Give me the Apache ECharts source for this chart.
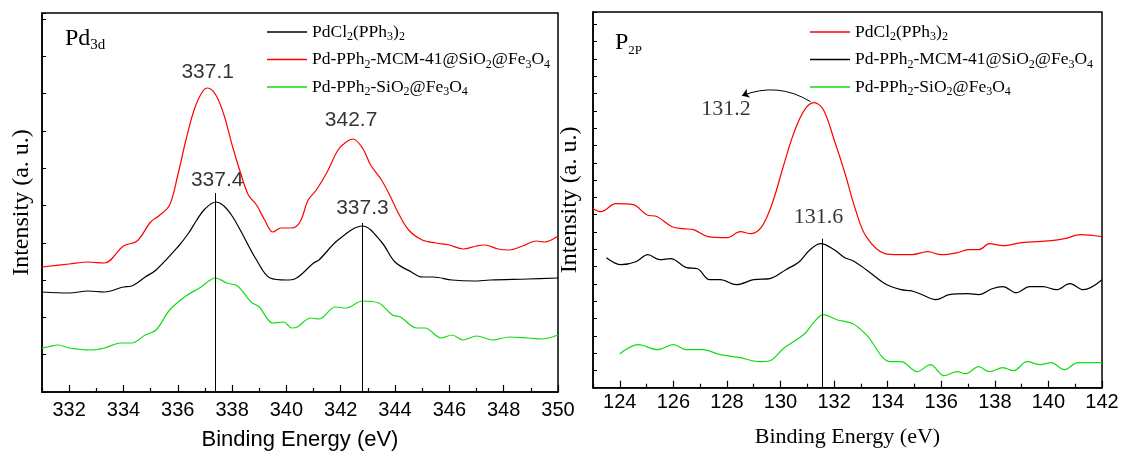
<!DOCTYPE html>
<html>
<head>
<meta charset="utf-8">
<title>XPS Pd3d / P2p</title>
<script src="https://cdn.jsdelivr.net/npm/echarts@6/dist/echarts.min.js"></script>
<style>
  html, body { margin: 0; background: #fff; }
  .panel { position: absolute; left: 0; top: 0; width: 1125px; height: 458px; }
</style>
</head>
<body>
<div id="pd" class="panel"></div>
<div id="p2p" class="panel"></div>
<script>
// sample names
const nameComplex = 'PdCl2(PPh3)2';
const nameMcm = 'Pd-PPh2-MCM-41@SiO2@Fe3O4';
const nameSio2 = 'Pd-PPh2-SiO2@Fe3O4';

// Pd 3d panel: [binding energy, intensity a.u.]
const pdRed = [[331.0,125],[332.0,128],[332.7,130],[333.3,129],[334.0,146],[334.5,151],[335.0,170],[335.3,176],
  [335.7,187],[336.0,217],[336.3,252],[336.6,282],[336.9,300],[337.1,304],[337.4,297],[337.7,277],[338.0,247],
  [338.3,220],[338.6,197],[338.9,187],[339.2,172],[339.5,160],[339.8,164],[340.2,164],[340.5,170],[340.8,192],
  [341.1,202],[341.5,220],[341.9,242],[342.2,250],[342.45,253],[342.8,244],[343.1,227],[343.5,212],[343.8,197],
  [344.1,180],[344.5,162],[345.0,152],[345.5,149],[346.0,147],[346.5,143],[347.0,146],[347.3,147],[347.8,143],
  [348.2,142],[348.7,146],[349.2,151],[349.5,150],[350.0,156]];
const pdBlack = [[331.0,100],[332.0,99],[332.7,101],[333.3,100],[334.0,105],[334.3,106],[334.8,115],[335.2,122],
  [336.0,145],[336.4,159],[336.7,172],[337.0,183],[337.4,190],[337.7,186],[338.0,176],[338.3,162],[338.9,132],
  [339.4,114],[340.0,112],[340.3,113],[341.0,129],[341.2,132],[341.9,152],[342.8,166],[343.5,150],[344.0,130],
  [344.6,120],[345.0,115],[345.4,115],[346.1,112],[346.9,111],[347.5,112],[348.9,113],[350.0,114]];
const pdGreen = [[331.0,44],[331.2,45],[331.6,47],[332.0,44],[332.8,42],[333.3,44],[333.9,49],[334.3,49],[334.8,57],
  [335.2,62],[335.7,82],[336.3,96],[336.8,104],[337.4,114],[337.8,109],[338.2,106],[338.7,90],[339.0,85],[339.5,69],
  [339.9,70],[340.2,64],[340.4,65],[340.9,74],[341.2,73],[341.8,85],[342.2,84],[342.8,91],[343.4,89],[343.9,77],
  [344.2,75],[344.8,64],[345.1,64],[345.7,54],[346.1,57],[346.5,52],[347.0,56],[347.6,52],[348.2,55],[348.9,54],
  [349.4,53],[350.0,57]];
const pdPeakLabels = [[337.1,320,'337.1'],[342.38,272,'342.7'],[337.45,212,'337.4'],[342.8,184,'337.3']];
const pdDropLines = [[337.38,199],[342.8,169]];
const pdEvenTicks = [332,334,336,338,340,342,344,346,348,350];
const pdOddTicks = [331,333,335,337,339,341,343,345,347,349];

// P 2p panel
const pRed = [[123.0,179],[123.3,176],[123.85,184],[124.5,183],[125.0,173],[125.4,171],[125.95,161],[126.35,159],
  [126.75,158],[127.3,151],[128.0,150],[128.5,156],[128.9,154],[129.3,161],[129.7,185],[130.1,221],[130.5,255],
  [130.9,278],[131.25,285],[131.6,278],[132.0,248],[132.4,215],[132.8,178],[133.2,151],[133.9,134],[134.4,133],
  [134.9,133],[135.5,136],[136.0,133],[136.6,135],[137.0,138],[137.4,138],[137.8,144],[138.3,142],[139.0,145],
  [140.1,147],[140.6,149],[141.2,153],[142.0,151]];
const pBlack = [[123.5,130],[124.05,123],[124.6,126],[125.05,133],[125.5,128],[125.9,129],[126.5,120],[126.9,119],
  [127.35,108],[127.75,108],[128.35,103],[129.0,108],[129.6,109],[130.2,118],[130.7,126],[131.1,138],[131.5,144],
  [132.0,138],[132.4,130],[132.7,127],[133.2,118],[133.9,104],[134.5,98],[134.85,97],[135.2,94],[135.8,88],
  [136.3,93],[137.0,94],[137.4,93],[137.9,99],[138.3,101],[138.8,95],[139.3,101],[139.8,101],[140.3,98],
  [140.8,104],[141.3,98],[142.0,108]];
const pGreen = [[124.0,34],[124.7,43],[125.4,38],[126.0,43],[126.5,38],[127.1,38],[127.75,33],[128.5,30],[129.2,26],
  [129.6,27],[130.1,39],[130.9,54],[131.2,64],[131.6,73],[132.1,68],[132.7,64],[133.2,53],[134.1,26],[134.5,26],
  [135.1,16],[135.6,23],[136.1,12],[136.6,16],[136.9,14],[137.4,21],[137.8,16],[138.3,20],[138.7,17],[139.2,26],
  [139.7,23],[140.1,25],[140.6,18],[141.1,25],[142.0,25]];
const pPeakLabels = [[127.96,278,'131.2'],[131.42,170,'131.6']];
const pArrow = [[131.12,286],[128.56,292]];
const pDropLine = [131.56,149];
const pEvenTicks = [124,126,128,130,132,134,136,138,140,142];
const pOddTicks = [123,125,127,129,131,133,135,137,139,141];

const SERIF = 'Liberation Serif, Times New Roman, serif';
const SANS = 'Liberation Sans, Arial, sans-serif';

// legend / title text with subscripts
const richNames = {};
richNames[nameComplex] = '{t|PdCl}{s|2}{t|(PPh}{s|3}{t|)}{s|2}';
richNames[nameMcm] = '{t|Pd-PPh}{s|2}{t|-MCM-41@SiO}{s|2}{t|@Fe}{s|3}{t|O}{s|4}';
richNames[nameSio2] = '{t|Pd-PPh}{s|2}{t|-SiO}{s|2}{t|@Fe}{s|3}{t|O}{s|4}';
const subRich = {
  t: { fontFamily: SERIF, fontSize: 17.5, lineHeight: 22, color: '#000' },
  s: { fontFamily: SERIF, fontSize: 12, lineHeight: 9, verticalAlign: 'bottom', color: '#000' }
};

function makeLine(name, data, color) {
  return {
    name: name,
    type: 'line',
    data: data,
    symbol: 'none',
    smooth: 0.35,
    lineStyle: { color: color, width: 1.2 },
    itemStyle: { color: color },
    z: 3
  };
}

function labelSeries(data, font, size) {
  return {
    type: 'scatter',
    data: data,
    symbolSize: 0,
    silent: true,
    label: {
      show: true,
      position: 'inside',
      formatter: p => p.data[2],
      color: '#000',
      fontFamily: font,
      fontSize: size
    }
  };
}

function panelOption(cfg) {
  return {
    animation: false,
    title: {
      text: cfg.title,
      left: cfg.titleLeft,
      top: cfg.titleTop,
      textStyle: { fontWeight: 'normal', rich: cfg.titleRich }
    },
    legend: {
      data: [nameComplex, nameMcm, nameSio2],
      orient: 'vertical',
      left: cfg.legendLeft,
      top: 18,
      icon: 'rect',
      itemWidth: 40,
      itemHeight: 1.5,
      itemGap: 7.5,
      formatter: n => richNames[n],
      textStyle: { rich: subRich }
    },
    grid: {
      left: cfg.grid[0], top: cfg.grid[1], width: cfg.grid[2], height: cfg.grid[3],
      show: true, borderColor: '#000', borderWidth: 1.5, backgroundColor: 'transparent'
    },
    xAxis: [
      {
        type: 'value', min: cfg.xMin, max: cfg.xMax, position: 'bottom',
        axisLine: { lineStyle: { color: '#000', width: 1.5 } },
        axisTick: { inside: true, length: 7, customValues: cfg.evenTicks, lineStyle: { color: '#000', width: 1.2 } },
        axisLabel: { customValues: cfg.evenTicks, color: '#000', fontFamily: SANS, fontSize: 20, margin: cfg.labelMargin },
        splitLine: { show: false },
        name: 'Binding Energy (eV)', nameLocation: 'middle', nameGap: cfg.xNameGap,
        nameTextStyle: { color: '#000', fontFamily: cfg.xNameFont, fontSize: 22 }
      },
      {
        // short ticks at odd energies, drawn along the bottom edge
        type: 'value', min: cfg.xMin, max: cfg.xMax, position: 'top', offset: -cfg.grid[3],
        axisLine: { show: false },
        axisTick: { inside: false, length: 4, customValues: cfg.oddTicks, lineStyle: { color: '#000', width: 1.2 } },
        axisLabel: { show: false },
        splitLine: { show: false }
      }
    ],
    yAxis: {
      type: 'value', min: 0, max: cfg.yMax, interval: cfg.yStep,
      axisLine: { lineStyle: { color: '#000', width: 1.5 } },
      axisTick: { inside: true, length: 4, lineStyle: { color: '#000', width: 1 } },
      axisLabel: { show: false },
      splitLine: { show: false },
      name: 'Intensity (a. u.)', nameLocation: 'middle', nameGap: cfg.yNameGap,
      nameTextStyle: { color: '#000', fontFamily: SERIF, fontSize: 24 }
    },
    series: cfg.series
  };
}

const dropLineStyle = { color: '#000', width: 1, type: 'solid' };

// ---- Pd 3d ----
const pdBlackSeries = makeLine(nameComplex, pdBlack, '#000000');
pdBlackSeries.markLine = {
  silent: true, symbol: 'none', label: { show: false }, lineStyle: dropLineStyle,
  data: pdDropLines.map(d => [{ coord: [d[0], 0] }, { coord: [d[0], d[1]] }])
};
const pdChart = echarts.init(document.getElementById('pd'));
pdChart.setOption(panelOption({
  title: '{m|Pd}{s|3d}', titleLeft: 60, titleTop: 20,
  titleRich: {
    m: { fontFamily: SERIF, fontSize: 24, lineHeight: 28, color: '#000' },
    s: { fontFamily: SERIF, fontSize: 15, lineHeight: 10, verticalAlign: 'bottom', color: '#000' }
  },
  legendLeft: 262,
  grid: [42, 13, 516, 379],
  xMin: 331, xMax: 350, evenTicks: pdEvenTicks, oddTicks: pdOddTicks,
  labelMargin: 8, xNameGap: 37, xNameFont: SANS,
  yMax: 379, yStep: 37.3, yNameGap: 8,
  series: [
    pdBlackSeries,
    makeLine(nameMcm, pdRed, '#ff0000'),
    makeLine(nameSio2, pdGreen, '#11dd11'),
    labelSeries(pdPeakLabels, SANS, 21)
  ]
}));

// ---- P 2p ----
const pBlackSeries = makeLine(nameMcm, pBlack, '#000000');
pBlackSeries.markLine = {
  silent: true, symbol: 'none', label: { show: false }, lineStyle: dropLineStyle,
  data: [[{ coord: [pDropLine[0], 0] }, { coord: pDropLine }]]
};
// curved arrow from the 131.2 peak to its label
const pArrowSeries = {
  type: 'lines',
  coordinateSystem: 'cartesian2d',
  silent: true,
  symbol: ['none', 'arrow'],
  symbolSize: 7,
  lineStyle: { color: '#000', width: 1, opacity: 1, curveness: -0.25 },
  data: [{ coords: pArrow }],
  z: 4
};
const pChart = echarts.init(document.getElementById('p2p'));
pChart.setOption(panelOption({
  title: '{m|P}{s|2P}', titleLeft: 610, titleTop: 24,
  titleRich: {
    m: { fontFamily: SERIF, fontSize: 24, lineHeight: 28, color: '#000' },
    s: { fontFamily: SERIF, fontSize: 13, lineHeight: 8, verticalAlign: 'bottom', color: '#000' }
  },
  legendLeft: 805,
  grid: [593, 12, 509, 375.7],
  xMin: 123, xMax: 142, evenTicks: pEvenTicks, oddTicks: pOddTicks,
  labelMargin: 5, xNameGap: 39, xNameFont: SERIF,
  yMax: 375.7, yStep: 17.3, yNameGap: 11,
  series: [
    makeLine(nameComplex, pRed, '#ff0000'),
    pBlackSeries,
    makeLine(nameSio2, pGreen, '#11dd11'),
    pArrowSeries,
    labelSeries(pPeakLabels, SERIF, 22)
  ]
}));
</script>
</body>
</html>
